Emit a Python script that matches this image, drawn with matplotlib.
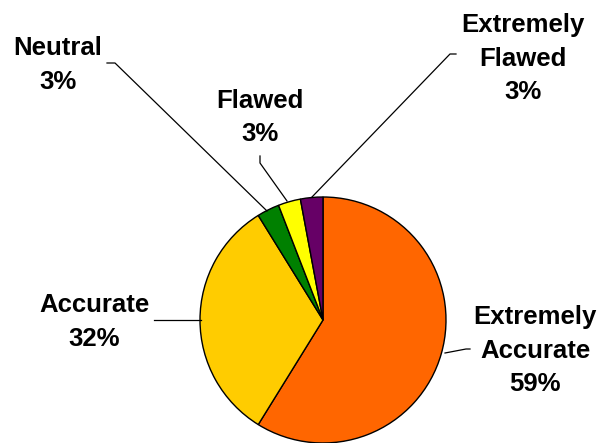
import matplotlib
matplotlib.use("Agg")
import matplotlib.pyplot as plt

# survey answers (counts), drawn clockwise from 12 o'clock
labels = ["Extremely\nAccurate", "Accurate", "Neutral", "Flawed", "Extremely\nFlawed"]
counts = [20, 11, 1, 1, 1]
colors = ["#FF6600", "#FFCC00", "#008000", "#FFFF00", "#660066"]

W, H = 601, 443

def fy(y):
    # pixel row (from top) -> axes y
    return H - y

fig = plt.figure(figsize=(W / 100, H / 100), dpi=100)
ax = fig.add_axes([0, 0, 1, 1])
ax.set_xlim(0, W)
ax.set_ylim(0, H)
ax.set_aspect("equal")
ax.axis("off")

ax.pie(counts, colors=colors, startangle=90, counterclock=False,
       center=(323, fy(320)), radius=123, frame=True,
       wedgeprops=dict(edgecolor="black", linewidth=1.0))
ax.set_xlim(0, W)
ax.set_ylim(0, H)
ax.axis("off")

total = sum(counts)
pct = [f"{round(100 * c / total)}%" for c in counts]

# label anchor: centre x, first baseline (pixels)
label_pos = [(535, 324), (94, 312), (57.5, 55), (260, 107.5), (523, 32)]
step = 33.5

for lab, p, (x, y0) in zip(labels, pct, label_pos):
    lines = lab.split("\n") + [p]
    for i, line in enumerate(lines):
        ax.text(x, fy(y0 + i * step), line, ha="center", va="baseline",
                fontsize=18.5, fontweight="bold", family="Liberation Sans")

# leader lines
leaders = [
    [(445, 353), (466, 349), (470, 349)],
    [(154, 320), (201, 320)],
    [(107, 63), (115, 63), (267, 211)],
    [(260, 156), (260, 163), (287, 201)],
    [(456, 54), (450, 54), (312, 197)],
]
for pts in leaders:
    ax.plot([p[0] for p in pts], [fy(p[1]) for p in pts], color="black", linewidth=0.9)

fig.savefig("out.png", dpi=100)
